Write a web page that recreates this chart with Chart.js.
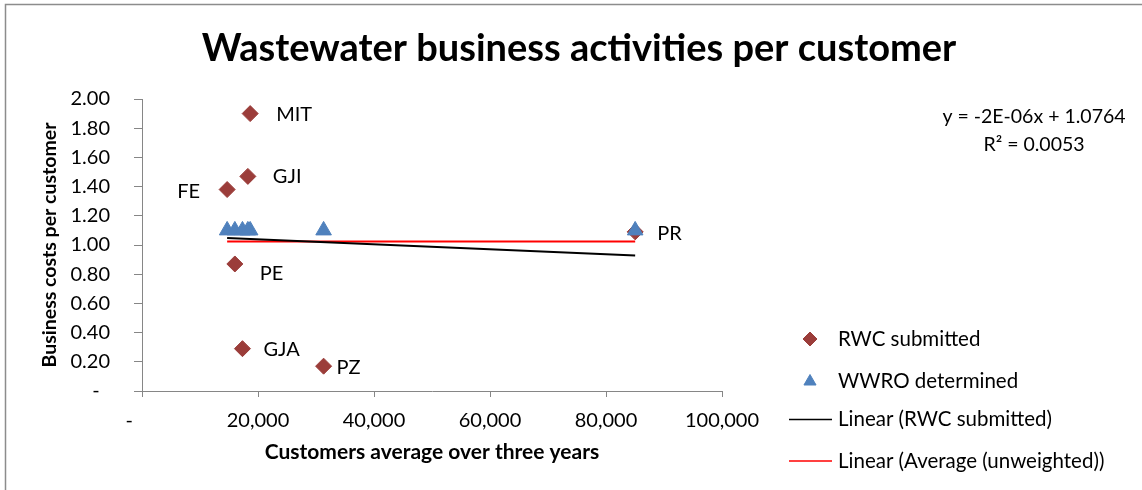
<!DOCTYPE html>
<html>
<head>
<meta charset="utf-8">
<title>Wastewater business activities per customer</title>
<script src="https://cdn.jsdelivr.net/npm/chart.js@4.4.1/dist/chart.umd.min.js"></script>
<style>
  html, body { margin: 0; padding: 0; background: #ffffff; }
  #wrap { width: 1142px; height: 490px; position: relative; }
</style>
</head>
<body>
<div id="wrap"><canvas id="chart"></canvas></div>
<script>
// ---- data -------------------------------------------------------------
const companies      = ['FE', 'PE', 'GJA', 'GJI', 'MIT', 'PZ', 'PR'];
const customers      = [14680, 16010, 17320, 18250, 18650, 31310, 85030];
const rwcSubmitted   = [1.38, 0.87, 0.29, 1.47, 1.90, 0.17, 1.09];
const wwroDetermined = [1.10, 1.10, 1.10, 1.10, 1.10, 1.10, 1.10];

const yTickValues = [0, 0.2, 0.4, 0.6, 0.8, 1.0, 1.2, 1.4, 1.6, 1.8, 2.0];
const xTickValues = [0, 20000, 40000, 60000, 80000, 100000];

const chartTitle  = 'Wastewater business activities per customer';
const yAxisTitle  = 'Business costs per customer';
const xAxisTitle  = 'Customers average over three years';
const trendLabel  = ['y = -2E-06x + 1.0764', 'R\u00B2 = 0.0053'];

// ---- derived series ---------------------------------------------------
const toPoints = (xs, ys) => xs.map((x, i) => ({ x, y: ys[i] }));

// least-squares trend of the submitted costs
function linearFit(xs, ys) {
  const n = xs.length;
  const mx = xs.reduce((a, b) => a + b, 0) / n;
  const my = ys.reduce((a, b) => a + b, 0) / n;
  let sxy = 0, sxx = 0;
  xs.forEach((x, i) => { sxy += (x - mx) * (ys[i] - my); sxx += (x - mx) * (x - mx); });
  const slope = sxy / sxx;
  return { slope, intercept: my - slope * mx, mean: my };
}
const fit  = linearFit(customers, rwcSubmitted);
const xMin = Math.min(...customers);
const xMax = Math.max(...customers);
const trendRwc = [xMin, xMax].map(x => ({ x, y: fit.intercept + fit.slope * x }));
const trendAvg = [xMin, xMax].map(x => ({ x, y: fit.mean }));

// ---- styling ----------------------------------------------------------
const FONT = "Lato, Carlito, Calibri, 'DejaVu Sans', sans-serif";
const AXIS_GREY = '#868686';
const TEXT = '#000000';

// where each company name sits relative to its marker
const nameOffsets = {
  FE:  { dx: -27, dy: 2,  align: 'right' },
  PE:  { dx: 25,  dy: 10, align: 'left' },
  GJA: { dx: 21,  dy: 1,  align: 'left' },
  GJI: { dx: 25,  dy: 0,  align: 'left' },
  MIT: { dx: 26,  dy: 1,  align: 'left' },
  PZ:  { dx: 13,  dy: 1,  align: 'left' },
  PR:  { dx: 22,  dy: 2,  align: 'left' }
};

const decor = {
  id: 'decor',
  beforeDraw(chart) {
    const { ctx, width, height } = chart;
    ctx.save();
    ctx.fillStyle = '#ffffff';
    ctx.fillRect(0, 0, width, height);
    // chart frame
    ctx.strokeStyle = '#8c8c8c';
    ctx.lineWidth = 1.5;
    ctx.beginPath();
    ctx.moveTo(5.5, height + 2);
    ctx.lineTo(5.5, 4.5);
    ctx.lineTo(width + 2, 4.5);
    ctx.stroke();
    ctx.restore();
  },
  afterDatasetsDraw(chart) {
    const { ctx } = chart;
    const meta = chart.getDatasetMeta(0);
    ctx.save();
    ctx.font = `20px ${FONT}`;
    ctx.fillStyle = TEXT;
    ctx.textBaseline = 'middle';
    meta.data.forEach((pt, i) => {
      const name = companies[i];
      const o = nameOffsets[name];
      ctx.textAlign = o.align;
      ctx.fillText(name, pt.x + o.dx, pt.y + o.dy);
    });
    ctx.restore();
  },
  afterDraw(chart) {
    const { ctx } = chart;
    ctx.save();
    // title
    ctx.font = `bold 38px ${FONT}`;
    ctx.fillStyle = TEXT;
    ctx.textAlign = 'center';
    ctx.textBaseline = 'alphabetic';
    ctx.fillText(chartTitle, 579, 61);

    // trend equation
    ctx.font = `19.5px ${FONT}`;
    ctx.textBaseline = 'middle';
    ctx.fillText(trendLabel[0], 1034, 117);
    ctx.fillText(trendLabel[1], 1034, 145);

    // legend
    const rows = [339, 381.5, 419.5, 461];
    const markerX = 810, textX = 838;
    ctx.font = `20.5px ${FONT}`;
    ctx.textAlign = 'left';
    chart.data.datasets.forEach((ds, i) => {
      const y = rows[i];
      if (ds.showLine) {
        ctx.strokeStyle = ds.borderColor;
        ctx.lineWidth = 1.5;
        ctx.beginPath();
        ctx.moveTo(789, y);
        ctx.lineTo(832, y);
        ctx.stroke();
      } else {
        ctx.fillStyle = ds.backgroundColor;
        ctx.strokeStyle = ds.borderColor;
        Chart.helpers.drawPoint(ctx, {
          pointStyle: ds.pointStyle, radius: 7, borderWidth: 1, rotation: 0
        }, markerX, y);
      }
      ctx.fillStyle = TEXT;
      ctx.fillText(ds.label, textX, y);
    });
    ctx.restore();
  }
};

const fmtThousands = v => v.toLocaleString('en-US');

new Chart(document.getElementById('chart'), {
  type: 'scatter',
  data: {
    datasets: [
      {
        label: 'RWC submitted',
        data: toPoints(customers, rwcSubmitted),
        pointStyle: 'rectRot',
        pointRadius: 8,
        pointHoverRadius: 8,
        backgroundColor: '#9B3D3A',
        borderColor: '#9B3D3A',
        borderWidth: 1,
        order: 3
      },
      {
        label: 'WWRO determined',
        data: toPoints(customers, wwroDetermined),
        pointStyle: 'triangle',
        pointRadius: 9,
        pointHoverRadius: 9,
        backgroundColor: '#4F81BD',
        borderColor: '#4F81BD',
        borderWidth: 1,
        order: 2
      },
      {
        label: 'Linear (RWC submitted)',
        data: trendRwc,
        showLine: true,
        pointRadius: 0,
        borderColor: '#000000',
        borderWidth: 2,
        order: 1
      },
      {
        label: 'Linear (Average (unweighted))',
        data: trendAvg,
        showLine: true,
        pointRadius: 0,
        borderColor: '#FF0000',
        borderWidth: 2,
        order: 1
      }
    ]
  },
  options: {
    responsive: true,
    maintainAspectRatio: false,
    animation: false,
    events: [],
    layout: { padding: { left: 0, right: 420, top: 99, bottom: 0 } },
    plugins: {
      legend: { display: false },
      title: { display: false },
      tooltip: { enabled: false }
    },
    scales: {
      x: {
        type: 'linear',
        min: 0,
        max: 100000,
        afterBuildTicks: s => { s.ticks = xTickValues.map(v => ({ value: v })); },
        afterFit: s => { s.height = 99; },
        grid: { display: true, drawOnChartArea: false, drawTicks: true, tickLength: 6, color: AXIS_GREY },
        border: { display: true, color: AXIS_GREY, width: 1 },
        ticks: {
          color: TEXT,
          font: { family: FONT, size: 20 },
          padding: 12,
          maxRotation: 0,
          autoSkip: false,
          callback: v => (v === 0 ? '-     ' : fmtThousands(v))
        },
        title: {
          display: true,
          text: xAxisTitle,
          color: TEXT,
          font: { family: FONT, size: 21, weight: 'bold' },
          padding: { top: 0, bottom: 25 }
        }
      },
      y: {
        type: 'linear',
        min: 0,
        max: 2,
        afterBuildTicks: s => { s.ticks = yTickValues.map(v => ({ value: v })); },
        afterFit: s => { s.width = 142; },
        grid: { display: true, drawOnChartArea: false, drawTicks: true, tickLength: 8, color: AXIS_GREY },
        border: { display: true, color: AXIS_GREY, width: 1 },
        ticks: {
          color: TEXT,
          font: { family: FONT, size: 20 },
          padding: 24,
          autoSkip: false,
          callback: v => (v === 0 ? '-  ' : v.toFixed(2))
        },
        title: {
          display: true,
          text: yAxisTitle,
          color: TEXT,
          font: { family: FONT, size: 19.5, weight: 'bold' },
          padding: { top: 38, bottom: 0 }
        }
      }
    }
  },
  plugins: [decor]
});
</script>
</body>
</html>
